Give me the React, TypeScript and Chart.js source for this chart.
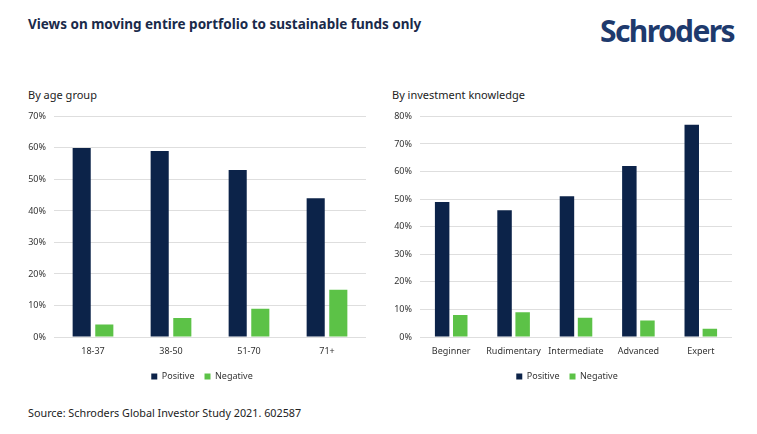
import React, { useEffect, useRef } from 'react';
import { Chart, registerables } from 'chart.js';

Chart.register(...registerables);

const ageGroups = ['18-37', '38-50', '51-70', '71+'];
const agePositive = [60, 59, 53, 44];
const ageNegative = [4, 6, 9, 15];
const ageTicks = [0, 10, 20, 30, 40, 50, 60, 70];

const knowledgeLevels = ['Beginner', 'Rudimentary', 'Intermediate', 'Advanced', 'Expert'];
const knowledgePositive = [49, 46, 51, 62, 77];
const knowledgeNegative = [8, 9, 7, 6, 3];
const knowledgeTicks = [0, 10, 20, 30, 40, 50, 60, 70, 80];

const NAVY = '#0c2349';
const GREEN = '#5cc247';
const FONT = '"Noto Sans", sans-serif';

// the original legend sits a bit right of the canvas centre, nearer the plot
const legendNudge = {
  id: 'legendNudge',
  afterLayout(chart: any) {
    if (chart.legend) chart.legend.left += 16;
  },
};

interface PanelProps {
  labels: string[];
  positive: number[];
  negative: number[];
  ticks: number[];
  axisWidth: number;
}

const BarPanel: React.FC<PanelProps> = ({ labels, positive, negative, ticks, axisWidth }) => {
  const canvasRef = useRef<HTMLCanvasElement>(null);

  useEffect(() => {
    if (!canvasRef.current) return;
    const max = ticks[ticks.length - 1];
    const chart = new Chart(canvasRef.current, {
      type: 'bar',
      data: {
        labels,
        datasets: [
          { label: 'Positive', data: positive, backgroundColor: NAVY },
          { label: 'Negative', data: negative, backgroundColor: GREEN },
        ],
      },
      plugins: [legendNudge],
      options: {
        animation: false,
        responsive: true,
        maintainAspectRatio: false,
        datasets: { bar: { categoryPercentage: 0.58, barPercentage: 0.8 } },
        layout: { padding: { top: 7, right: 6, left: 0, bottom: 0 } },
        scales: {
          x: {
            grid: { display: false },
            border: { display: false },
            ticks: { color: '#333', font: { family: FONT, size: 9 }, padding: 1, maxRotation: 0 },
            afterFit: (s: any) => { s.height = 25; },
          },
          y: {
            min: 0,
            max,
            border: { display: false },
            grid: { color: '#dedede', drawTicks: false },
            afterBuildTicks: (s: any) => { s.ticks = ticks.map((v) => ({ value: v })); },
            afterFit: (s: any) => { s.width = axisWidth; },
            ticks: {
              color: '#333',
              font: { family: FONT, size: 9 },
              padding: 8,
              callback: (v: any) => `${v}%`,
            },
          },
        },
        plugins: {
          legend: {
            position: 'bottom',
            labels: {
              boxWidth: 6,
              boxHeight: 6,
              color: '#333',
              font: { family: FONT, size: 9 },
              padding: 10,
            },
          },
          tooltip: { enabled: false },
        },
      },
    });
    return () => chart.destroy();
  }, [labels, positive, negative, ticks, axisWidth]);

  return <canvas ref={canvasRef} />;
};

export default function App() {
  useEffect(() => {
    document.body.style.margin = '0';
  }, []);

  return (
    <div style={{ position: 'fixed', left: 0, top: 0, width: 757, height: 434, background: '#fff', fontFamily: FONT, overflow: 'hidden' }}>
      <div style={{ position: 'absolute', left: 28, top: 15, fontSize: 13.5, fontWeight: 700, color: '#1a2a4a', whiteSpace: 'nowrap' }}>
        Views on moving entire portfolio to sustainable funds only
      </div>
      <div style={{ position: 'absolute', left: 600, top: 10, fontSize: 30, fontWeight: 700, color: '#1e3a6d', whiteSpace: 'nowrap', letterSpacing: -1.6 }}>
        Schroders
      </div>
      <div style={{ position: 'absolute', left: 28, top: 87, fontSize: 11, color: '#222', whiteSpace: 'nowrap' }}>By age group</div>
      <div style={{ position: 'absolute', left: 392, top: 87, fontSize: 11, color: '#222', whiteSpace: 'nowrap' }}>By investment knowledge</div>
      <div style={{ position: 'absolute', left: 22, top: 103, width: 350, height: 288 }}>
        <BarPanel labels={ageGroups} positive={agePositive} negative={ageNegative} ticks={ageTicks} axisWidth={32} />
      </div>
      <div style={{ position: 'absolute', left: 386, top: 103, width: 352, height: 288 }}>
        <BarPanel labels={knowledgeLevels} positive={knowledgePositive} negative={knowledgeNegative} ticks={knowledgeTicks} axisWidth={34} />
      </div>
      <div style={{ position: 'absolute', left: 28, top: 405, fontSize: 10.8, color: '#222', whiteSpace: 'nowrap' }}>
        Source: Schroders Global Investor Study 2021. 602587
      </div>
    </div>
  );
}
